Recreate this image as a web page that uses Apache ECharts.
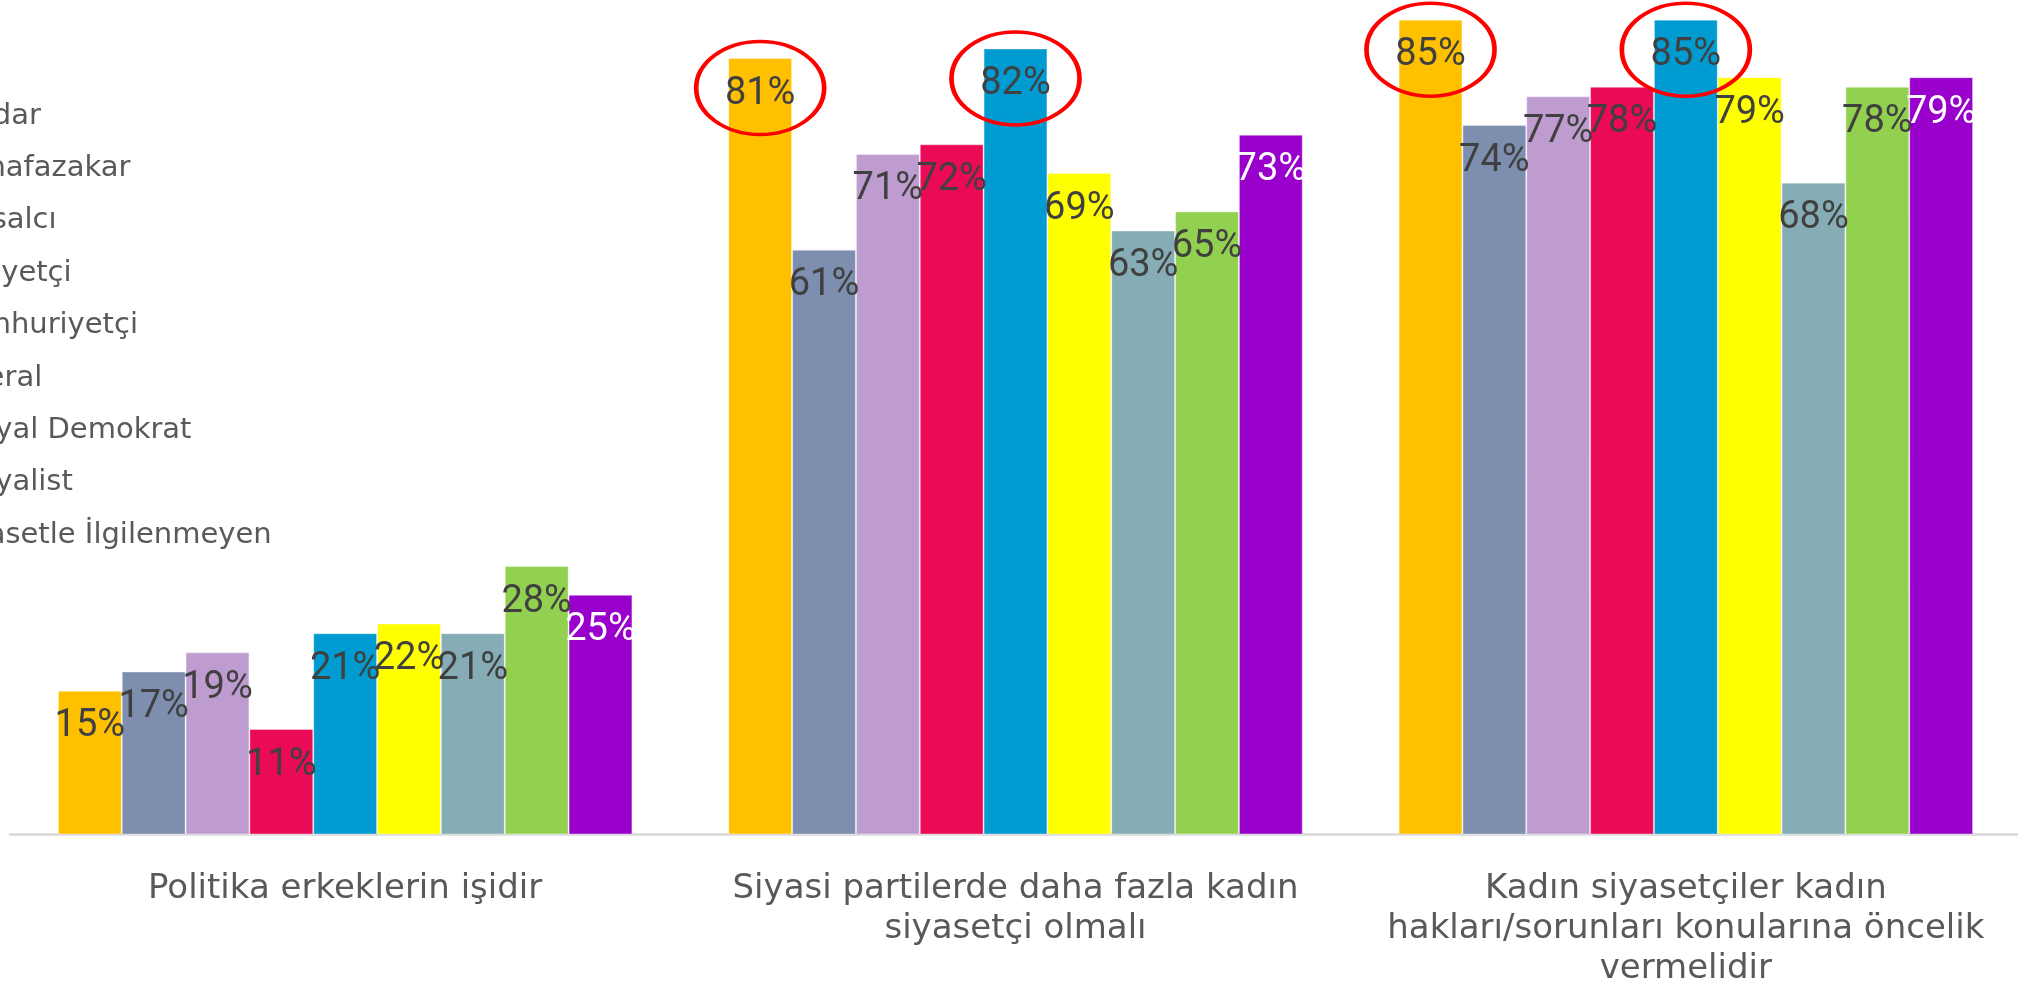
<!DOCTYPE html>
<html>
<head>
<meta charset="utf-8">
<script src="https://cdn.jsdelivr.net/npm/echarts@6/dist/echarts.min.js"></script>
<style>
  html, body { margin: 0; padding: 0; background: #ffffff; }
  #chart { width: 2018px; height: 990px; }
</style>
</head>
<body>
<div id="chart"></div>
<script>
// Statements (x-axis categories)
const categories = [
  'Politika erkeklerin işidir',
  'Siyasi partilerde daha fazla kadın\nsiyasetçi olmalı',
  'Kadın siyasetçiler kadın\nhakları/sorunları konularına öncelik\nvermelidir'
];

// Political identity groups (legend)
const seriesNames = [
  'Dindar', 'Muhafazakar', 'Ulusalcı', 'Milliyetçi', 'Cumhuriyetçi',
  'Liberal', 'Sosyal Demokrat', 'Sosyalist', 'Siyasetle İlgilenmeyen'
];

// Agreement percentages per group, one value per statement
const dindar         = [15, 81, 85];
const muhafazakar    = [17, 61, 74];
const ulusalci       = [19, 71, 77];
const milliyetci     = [11, 72, 78];
const cumhuriyetci   = [21, 82, 85];
const liberal        = [22, 69, 79];
const sosyalDemokrat = [21, 63, 68];
const sosyalist      = [28, 65, 78];
const ilgilenmeyen   = [25, 73, 79];

const seriesValues = [dindar, muhafazakar, ulusalci, milliyetci, cumhuriyetci,
                      liberal, sosyalDemokrat, sosyalist, ilgilenmeyen];

// Bars ringed in red: these groups on these statements
const circledSeries = ['Dindar', 'Cumhuriyetçi'];
const circledCategories = [1, 2];

const palette = ['#FFC000', '#7D8EAE', '#BE9CD0', '#EA0A55', '#009BD0',
                 '#FFFF00', '#86ACB5', '#92D050', '#9900CC'];

const labelFont = "Roboto, 'DejaVu Sans Condensed', sans-serif";
const textFont = "'DejaVu Sans', sans-serif";
const ellipsePath = 'path://M0,50A50,50,0,1,1,100,50A50,50,0,1,1,0,50Z';

const chart = echarts.init(document.getElementById('chart'), null, { renderer: 'canvas' });

const series = seriesNames.map((name, i) => {
  const s = {
    name: name,
    type: 'bar',
    data: seriesValues[i],
    barGap: '0%',
    barCategoryGap: '14.3%',
    itemStyle: {
      color: palette[i],
      borderColor: 'rgba(255,255,255,0.35)',
      borderWidth: 1
    },
    label: {
      show: true,
      position: 'insideTop',
      distance: 17,
      formatter: '{c}%',
      color: i === seriesNames.length - 1 ? '#ffffff' : '#404040',
      fontSize: 38,
      fontFamily: labelFont
    }
  };
  if (circledSeries.includes(name)) {
    s.markPoint = {
      symbol: ellipsePath,
      symbolSize: [128, 93],
      symbolOffset: [0, 30],
      symbolKeepAspect: false,
      silent: true,
      label: { show: false },
      itemStyle: { color: 'rgba(0,0,0,0)', borderColor: '#FF0000', borderWidth: 4 },
      data: circledCategories.map(c => ({ coord: [c, seriesValues[i][c]] }))
    };
  }
  return s;
});

chart.setOption({
  animation: false,
  backgroundColor: '#ffffff',
  legend: {
    orient: 'vertical',
    left: -87,
    top: 101,
    padding: 0,
    itemWidth: 25,
    itemHeight: 14,
    itemGap: 22.4,
    icon: 'rect',
    data: seriesNames,
    textStyle: { fontSize: 29, color: '#595959', fontFamily: textFont, lineHeight: 30 }
  },
  grid: {
    left: 10,
    right: -3,
    top: 0.5,
    bottom: 155.5,
    outerBoundsMode: 'none'
  },
  xAxis: {
    type: 'category',
    data: categories,
    axisTick: { show: false },
    axisLine: { lineStyle: { color: '#D9D9D9', width: 2.5 } },
    axisLabel: {
      interval: 0,
      margin: 35,
      fontSize: 34,
      lineHeight: 40,
      color: '#595959',
      fontFamily: textFont
    }
  },
  yAxis: {
    type: 'value',
    min: 0,
    max: 87,
    show: false,
    splitLine: { show: false }
  },
  series: series
});
</script>
</body>
</html>
